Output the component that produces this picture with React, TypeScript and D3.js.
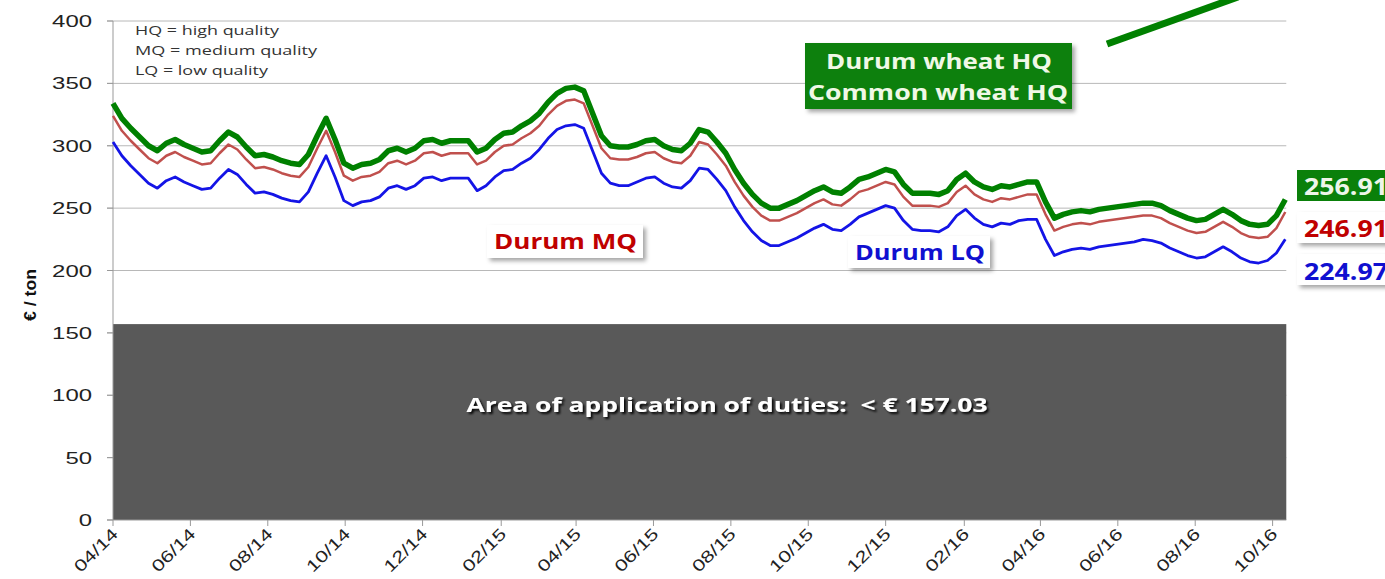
import React from "react";
import * as d3 from "d3";

// ---- data (weekly observations, starting 1 April 2014) ----
const START_DATE = new Date(2014, 3, 1);
const WEEK_COUNT = 133;
const weekDates: Date[] = d3.range(WEEK_COUNT).map((i) => d3.timeDay.offset(START_DATE, 7 * i));

const durumHQ = [
  334, 322, 314, 307, 300, 296, 302, 305, 301, 298,
  295, 296, 304, 311, 307, 299, 292, 293, 291, 288,
  286, 285, 293, 308, 322, 305, 286, 282, 285, 286,
  289, 296, 298, 295, 298, 304, 305, 302, 304, 304,
  304, 295, 298, 305, 310, 311, 316, 320, 326, 335,
  342, 346, 347, 344, 326, 308, 300, 299, 299, 301,
  304, 305, 300, 297, 296, 302, 313, 311, 303, 294,
  281, 270, 261, 254, 250, 250, 253, 256, 260, 264,
  267, 263, 262, 267, 273, 275, 278, 281, 279, 269,
  262, 262, 262, 261, 264, 273, 278, 271, 267, 265,
  268, 267, 269, 271, 271, 255, 242, 245, 247, 248,
  247, 249, 250, 251, 252, 253, 254, 254, 252, 248,
  245, 242, 240, 241, 245, 249, 245, 240, 237, 236,
  237, 244, 256.91,
];

const durumMQ = [
  324, 312, 304, 297, 290, 286, 292, 295, 291, 288,
  285, 286, 294, 301, 297, 289, 282, 283, 281, 278,
  276, 275, 283, 298, 312, 295, 276, 272, 275, 276,
  279, 286, 288, 285, 288, 294, 295, 292, 294, 294,
  294, 285, 288, 295, 300, 301, 306, 310, 316, 325,
  332, 336, 337, 334, 316, 298, 290, 289, 289, 291,
  294, 295, 290, 287, 286, 292, 303, 301, 293, 284,
  271, 260, 251, 244, 240, 240, 243, 246, 250, 254,
  257, 253, 252, 257, 263, 265, 268, 271, 269, 259,
  252, 252, 252, 251, 254, 263, 268, 261, 257, 255,
  258, 257, 259, 261, 261, 245, 232, 235, 237, 238,
  237, 239, 240, 241, 242, 243, 244, 244, 242, 238,
  235, 232, 230, 231, 235, 239, 235, 230, 227, 226,
  227, 234, 246.91,
];

const durumLQ = [
  303, 292, 284, 277, 270, 266, 272, 275, 271, 268,
  265, 266, 274, 281, 277, 269, 262, 263, 261, 258,
  256, 255, 263, 278, 292, 275, 256, 252, 255, 256,
  259, 266, 268, 265, 268, 274, 275, 272, 274, 274,
  274, 264, 268, 275, 280, 281, 286, 290, 297, 306,
  313, 316, 317, 314, 296, 278, 270, 268, 268, 271,
  274, 275, 270, 267, 266, 272, 282, 281, 273, 264,
  251, 240, 231, 224, 220, 220, 223, 226, 230, 234,
  237, 233, 232, 237, 243, 246, 249, 252, 250, 240,
  233, 232, 232, 231, 235, 244, 249, 242, 237, 235,
  238, 237, 240, 241, 241, 225, 212, 215, 217, 218,
  217, 219, 220, 221, 222, 223, 225, 224, 222, 218,
  215, 212, 210, 211, 215, 219, 215, 210, 207, 206,
  208, 214, 224.97,
];

const xTickLabels = [
  "04/14", "06/14", "08/14", "10/14", "12/14", "02/15", "04/15", "06/15",
  "08/15", "10/15", "12/15", "02/16", "04/16", "06/16", "08/16", "10/16",
];
const yTicks = [0, 50, 100, 150, 200, 250, 300, 350, 400];
const DUTY_THRESHOLD = 157.03;
const legendLines = ["HQ = high quality", "MQ = medium quality", "LQ = low quality"];
const legendWidths = [144, 182, 133];

const W = 1385;
const H = 579;

const parseTick = d3.timeParse("%m/%y");

export default function App() {
  const x = d3
    .scaleTime()
    .domain([new Date(2014, 3, 1), new Date(2016, 9, 1)])
    .range([113, 1272.6]);
  const y = d3.scaleLinear().domain([0, 400]).range([520, 21]);

  const line = d3
    .line<number>()
    .x((_, i) => x(weekDates[i]))
    .y((d) => y(d));

  const xEnd = x(weekDates[WEEK_COUNT - 1]) + 1;
  const axisFont = "'Liberation Sans', Arial, sans-serif";
  const labelFont = "'Open Sans', 'Noto Sans', sans-serif";

  return (
    <svg
      width={W}
      height={H}
      style={{ position: "absolute", left: 0, top: 0, background: "#fff" }}
    >
      <defs>
        <filter id="boxShadow" x="-20%" y="-30%" width="150%" height="180%">
          <feDropShadow dx="3" dy="3" stdDeviation="2" floodColor="#000" floodOpacity="0.35" />
        </filter>
        <filter id="textShadow" x="-5%" y="-30%" width="110%" height="170%">
          <feDropShadow dx="2" dy="2" stdDeviation="1" floodColor="#000" floodOpacity="0.9" />
        </filter>
      </defs>

      {/* gridlines */}
      {yTicks.filter((t) => t > 0).map((t) => (
        <line key={`g${t}`} x1={107} x2={xEnd} y1={y(t)} y2={y(t)} stroke="#b8b8b8" strokeWidth={1} />
      ))}

      {/* duty area */}
      <rect
        x={x(weekDates[0])}
        y={y(DUTY_THRESHOLD)}
        width={xEnd - x(weekDates[0])}
        height={y(0) - y(DUTY_THRESHOLD)}
        fill="#595959"
      />
      <text
        x={727}
        y={412}
        textAnchor="middle"
        fontFamily={labelFont}
        fontWeight={700}
        fontSize={20}
        fill="#fff"
        textLength={521}
        lengthAdjust="spacingAndGlyphs"
        filter="url(#textShadow)"
        style={{ whiteSpace: "pre" }}
      >
        {`Area of application of duties:  < € ${DUTY_THRESHOLD}`}
      </text>

      {/* axes */}
      <line x1={113} x2={113} y1={y(400)} y2={y(0)} stroke="#999" strokeWidth={1} />
      <line x1={107} x2={xEnd} y1={y(0)} y2={y(0)} stroke="#999" strokeWidth={1} />
      {yTicks.map((t) => (
        <g key={`y${t}`}>
          <line x1={107} x2={113} y1={y(t)} y2={y(t)} stroke="#999" />
          <text
            x={92}
            y={y(t) + 6}
            textAnchor="end"
            fontFamily={axisFont}
            fontSize={17}
            fill="#222"
            textLength={String(t).length * 13.3}
            lengthAdjust="spacingAndGlyphs"
          >
            {t}
          </text>
        </g>
      ))}
      {xTickLabels.map((lab) => {
        const xx = x(parseTick(lab) as Date);
        return (
          <g key={lab}>
            <line x1={xx} x2={xx} y1={520} y2={526} stroke="#999" />
            <text
              transform={`translate(${xx + 6},${535}) rotate(-45)`}
              textAnchor="end"
              fontFamily={axisFont}
              fontSize={16.5}
              fill="#222"
              textLength={54}
              lengthAdjust="spacingAndGlyphs"
            >
              {lab}
            </text>
          </g>
        );
      })}
      <text
        transform="translate(36,295) rotate(-90)"
        textAnchor="middle"
        fontFamily={axisFont}
        fontWeight={700}
        fontSize={17}
        fill="#111"
        textLength={52}
        lengthAdjust="spacingAndGlyphs"
      >
        € / ton
      </text>

      {/* legend note */}
      {legendLines.map((t, i) => (
        <text
          key={t}
          x={135}
          y={35 + i * 20}
          fontFamily={labelFont}
          fontSize={13.5}
          fill="#333"
          textLength={legendWidths[i]}
          lengthAdjust="spacingAndGlyphs"
        >
          {t}
        </text>
      ))}

      {/* series */}
      <path d={line(durumLQ) ?? ""} fill="none" stroke="#1414e6" strokeWidth={2.8} strokeLinejoin="round" />
      <path d={line(durumMQ) ?? ""} fill="none" stroke="#c0504d" strokeWidth={2.5} strokeLinejoin="round" />
      <path d={line(durumHQ) ?? ""} fill="none" stroke="#008000" strokeWidth={5.5} strokeLinejoin="round" />

      {/* HQ label box and arrow */}
      <line x1={1107} y1={44} x2={1238} y2={-3} stroke="#008000" strokeWidth={7} />
      <rect x={805} y={43} width={267} height={66} fill="#0a800a" filter="url(#boxShadow)" />
      <text x={939} y={69} textAnchor="middle" fontFamily={labelFont} fontWeight={700} fontSize={21} fill="#f0f8e6" textLength={226} lengthAdjust="spacingAndGlyphs">
        Durum wheat HQ
      </text>
      <text x={938} y={100} textAnchor="middle" fontFamily={labelFont} fontWeight={700} fontSize={21} fill="#f0f8e6" textLength={260} lengthAdjust="spacingAndGlyphs">
        Common wheat HQ
      </text>

      {/* MQ label */}
      <rect x={487} y={225} width={156} height={33} fill="#fff" filter="url(#boxShadow)" />
      <text x={494} y={249} fontFamily={labelFont} fontWeight={700} fontSize={21} fill="#c00000" textLength={143} lengthAdjust="spacingAndGlyphs">
        Durum MQ
      </text>

      {/* LQ label */}
      <rect x={848} y={236} width={142} height={32} fill="#fff" filter="url(#boxShadow)" />
      <text x={855} y={260} fontFamily={labelFont} fontWeight={700} fontSize={21} fill="#1010d0" textLength={130} lengthAdjust="spacingAndGlyphs">
        Durum LQ
      </text>

      {/* end values */}
      <rect x={1297} y={170} width={100} height={31} fill="#0a800a" />
      <text x={1304} y={195} fontFamily={labelFont} fontWeight={700} fontSize={23} fill="#eef6ea" textLength={84} lengthAdjust="spacingAndGlyphs">
        {durumHQ[WEEK_COUNT - 1].toFixed(2)}
      </text>
      <rect x={1297} y={212} width={100} height={31} fill="#fff" filter="url(#boxShadow)" />
      <text x={1304} y={237} fontFamily={labelFont} fontWeight={700} fontSize={23} fill="#c00000" textLength={84} lengthAdjust="spacingAndGlyphs">
        {durumMQ[WEEK_COUNT - 1].toFixed(2)}
      </text>
      <rect x={1297} y={254} width={100} height={31} fill="#fff" filter="url(#boxShadow)" />
      <text x={1304} y={280} fontFamily={labelFont} fontWeight={700} fontSize={23} fill="#1010d0" textLength={84} lengthAdjust="spacingAndGlyphs">
        {durumLQ[WEEK_COUNT - 1].toFixed(2)}
      </text>
    </svg>
  );
}
